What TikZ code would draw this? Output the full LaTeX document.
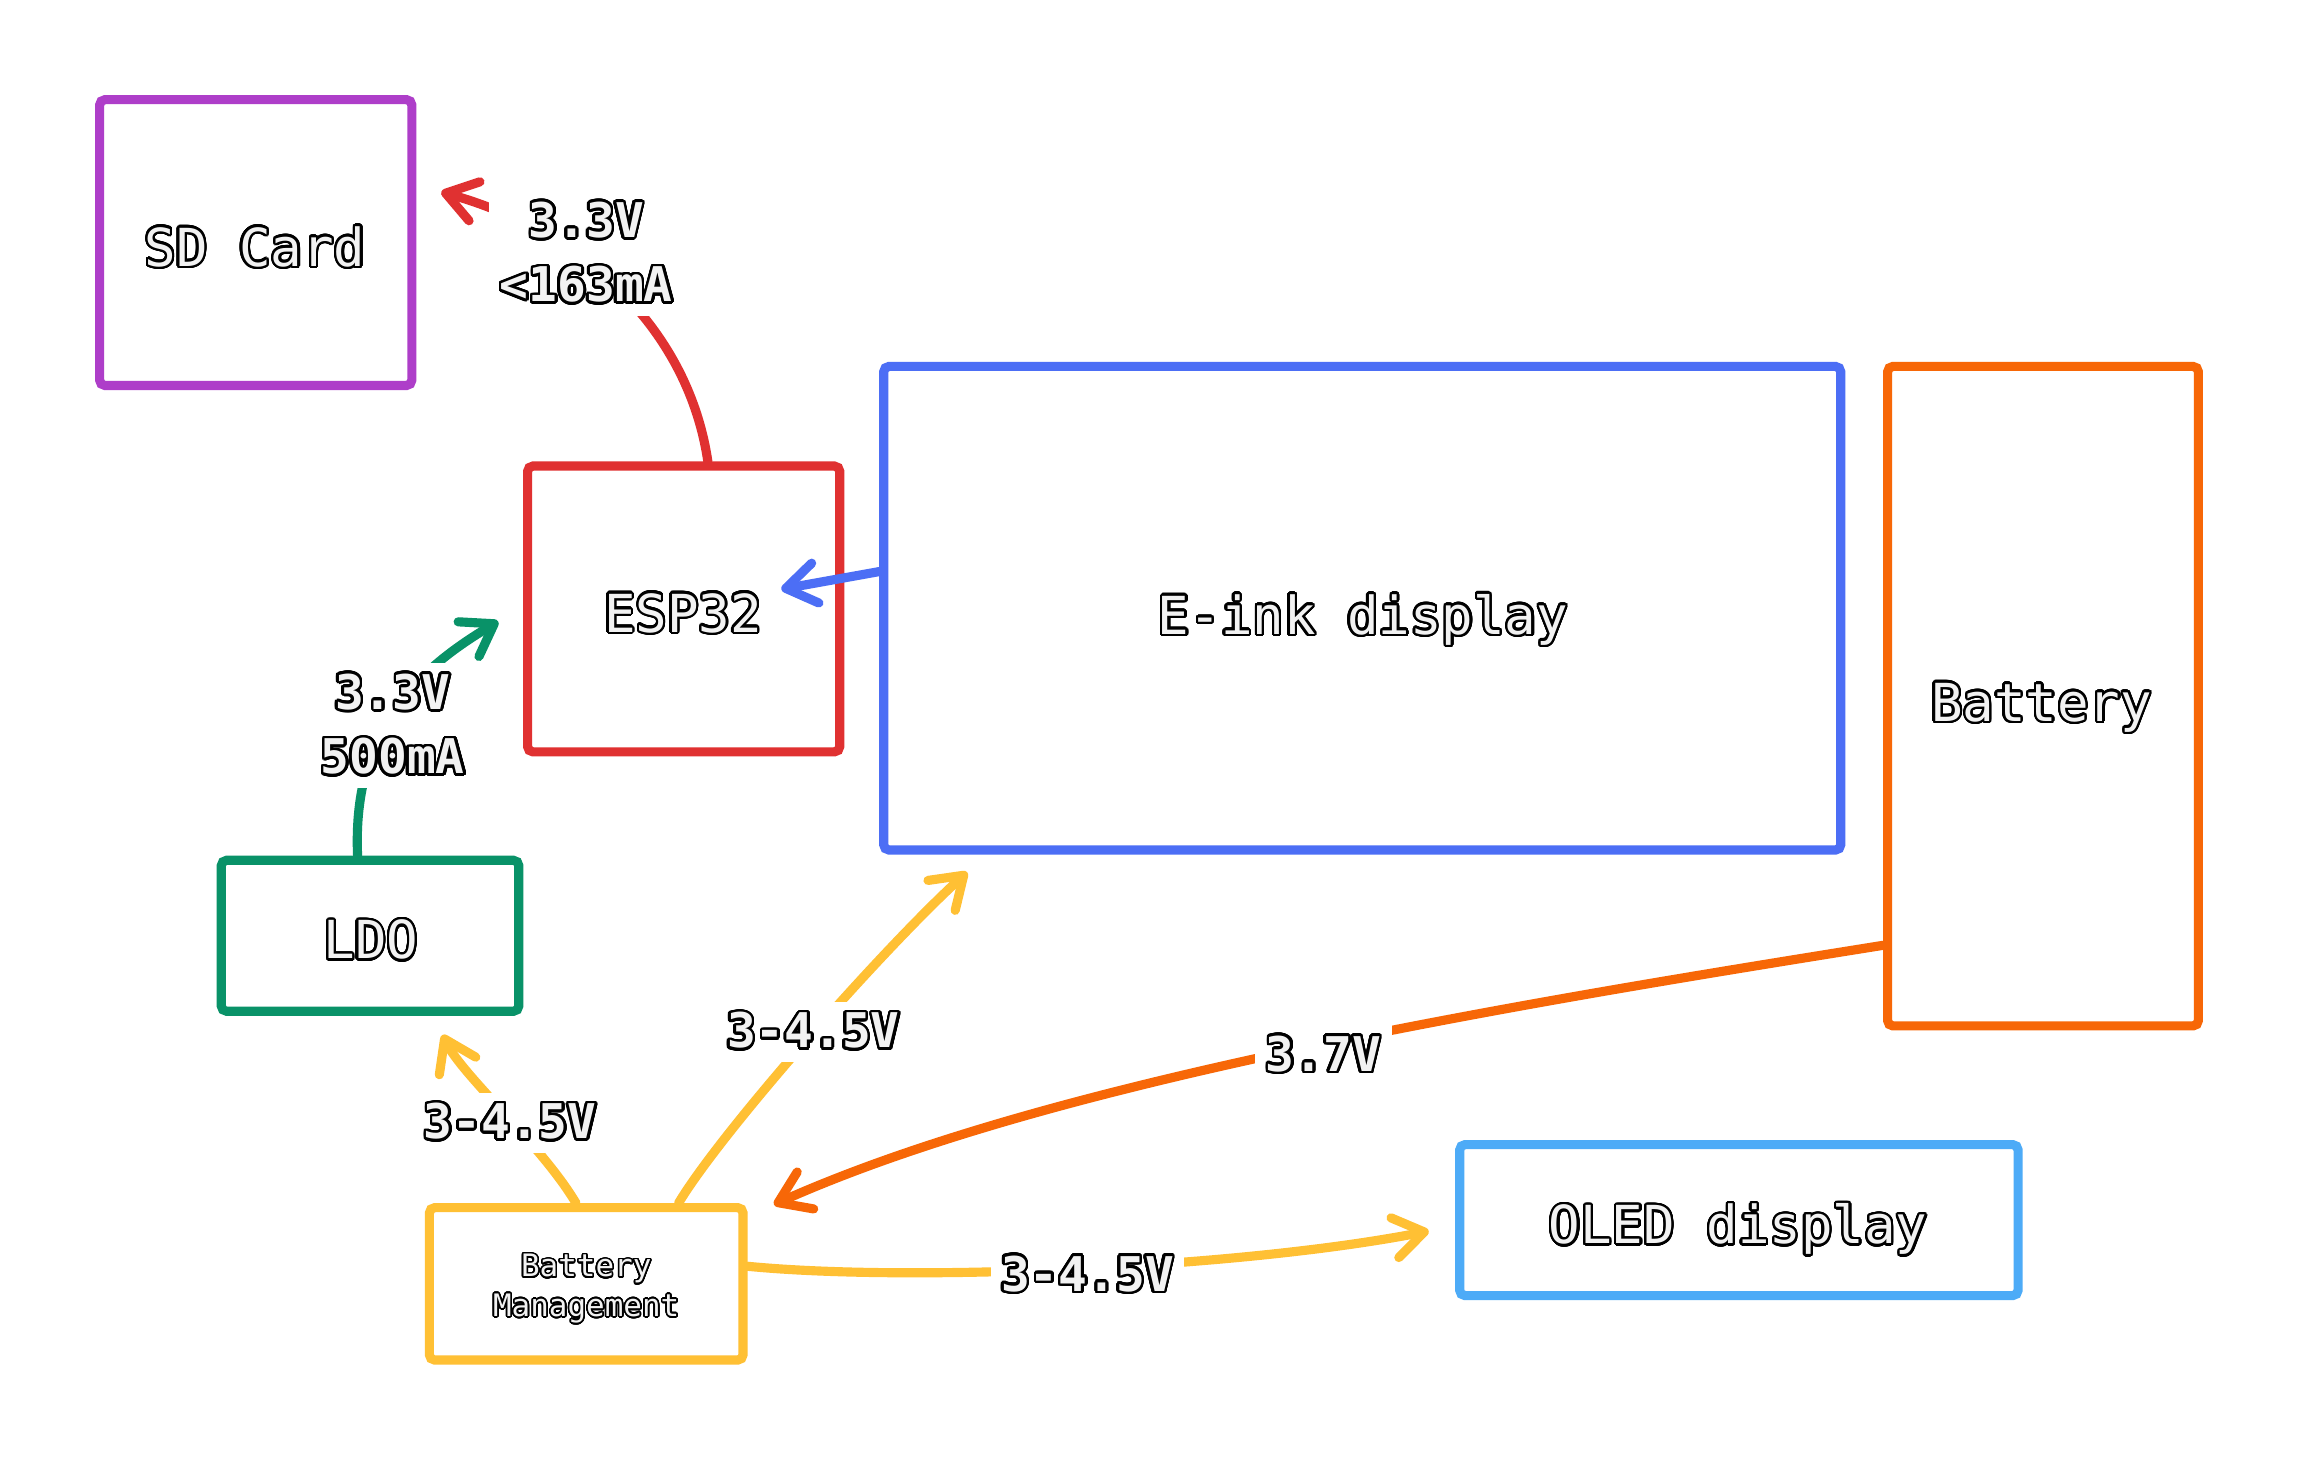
\documentclass[tikz,border=0pt]{standalone}
\usepackage{fontspec}
\setmonofont{DejaVu Sans Mono}
\usepackage{contour}
\contournumber{32}
\usetikzlibrary{arrows.meta,calc}
\definecolor{cViolet}{HTML}{AE3EC9}
\definecolor{cRed}{HTML}{E03131}
\definecolor{cBlue}{HTML}{4C6EF5}
\definecolor{cOrange}{HTML}{F76707}
\definecolor{cGreen}{HTML}{099268}
\definecolor{cYellow}{HTML}{FFC034}
\definecolor{cSky}{HTML}{4DABF7}
\definecolor{txtfill}{HTML}{F2F2F2}
\def\ux{0.014656cm}
\newcommand{\boxtxt}[1]{\contourlength{0.65pt}\contour{black}{#1}}
\newcommand{\lbltxt}[1]{\contourlength{0.75pt}\contour{black}{#1}}
\tikzset{
  box/.style={draw=#1, line width=2.6pt, rounded corners=1.5pt, fill=white, inner sep=0pt,
    text=txtfill, text depth=0pt, font=\ttfamily\fontsize{14.9}{18}\selectfont},
  boxtext/.style={inner sep=0pt, text=txtfill, text depth=0pt,
    font=\ttfamily\fontsize{14.9}{18}\selectfont},
  conn/.style={draw=#1, line width=2.6pt, line cap=round,
    -{Straight Barb[length=8.5pt,width=11.5pt,round]}},
  lbl/.style={fill=white, inner sep=3pt, align=center, text=txtfill,
    font=\ttfamily\bfseries\fontsize{13.6}{18.3}\selectfont},
}
\begin{document}
\begin{tikzpicture}[x=0.014656cm, y=-0.014656cm]
\useasboundingbox[fill=white] (0,0) rectangle (1568,995);
% boxes
\node[box=cViolet, minimum width=213*\ux, minimum height=195*\ux] (sd) at (174.5,165.5) {};
\node[box=cRed, minimum width=213*\ux, minimum height=195*\ux] (esp) at (466.5,415.5) {};
\node[box=cBlue, minimum width=653*\ux, minimum height=330*\ux] (eink) at (929.5,415) {};
\node[box=cOrange, minimum width=212*\ux, minimum height=450*\ux] (batt) at (1394,475) {};
\node[box=cGreen, minimum width=203*\ux, minimum height=103*\ux] (ldo) at (252.5,638.5) {};
\node[box=cYellow, minimum width=214*\ux, minimum height=104*\ux] (bms) at (400,876) {};
\node[box=cSky, minimum width=381*\ux, minimum height=103*\ux] (oled) at (1186.5,832.5) {};
% box texts
\node[boxtext] (sdT) at (174,168) {\boxtxt{SD Card}};
\node[boxtext] (espT) at (466,418) {\boxtxt{ESP32}};
\node[boxtext] (einkT) at (930,419) {\boxtxt{E-ink display}};
\node[boxtext] (battT) at (1393,479) {\boxtxt{Battery}};
\node[boxtext] (ldoT) at (253,641) {\boxtxt{LDO}};
\node[boxtext] (oledT) at (1186,835) {\boxtxt{OLED display}};
\node[boxtext, align=center, font=\ttfamily\fontsize{8.8}{11.3}\selectfont] (bmsT) at (400,877)
  {\contourlength{0.45pt}\contour{black}{Battery}\\\contourlength{0.45pt}\contour{black}{Management}};
% connector end points
\coordinate (sdIn) at ($(sd.east)+(17,-34.5)$);
\coordinate (espTop) at ($(esp.north)+(16.5,0)$);
\coordinate (ldoTop) at ($(ldo.north)+(-8.5,0)$);
\coordinate (espIn) at ($(esp.west)+(-17,8.5)$);
\coordinate (einkOut) at ($(eink.west)+(0,-25)$);
\coordinate (espIn2) at ($(esp.east)+(-43,-13.5)$);
\coordinate (battOut) at ($(batt.west)+(0,170)$);
\coordinate (bmsIn) at ($(bms.north east)+(18,1)$);
\coordinate (bmsTopA) at ($(bms.north)+(-7,0)$);
\coordinate (ldoIn) at ($(ldo.south)+(49.5,13)$);
\coordinate (bmsTopB) at ($(bms.north)+(63,0)$);
\coordinate (einkIn) at ($(eink.south west)+(60,12)$);
\coordinate (bmsRight) at ($(bms.east)+(0,-12)$);
\coordinate (oledIn) at ($(oled.west)+(-18,7.5)$);
% connectors
\draw[conn=cRed] (espTop) .. controls +(-13,-88) and +(100,28) .. (sdIn);
\draw[conn=cGreen] (ldoTop) .. controls +(-4,-90) and +(-50,30) .. (espIn);
\draw[conn=cBlue] (einkOut) -- (espIn2);
\draw[conn=cOrange] (battOut) .. controls +(-250,40) and +(190,-85) .. (bmsIn);
\draw[conn=cYellow] (bmsTopA) .. controls +(-23,-39) and +(13,27) .. (ldoIn);
\draw[conn=cYellow] (bmsTopB) .. controls +(30,-50) and +(-55,50) .. (einkIn);
\draw[conn=cYellow] (bmsRight) .. controls +(113,11) and +(-128,25) .. (oledIn);
% labels
\node[lbl] (l1) at (400,173) {\lbltxt{3.3V}\\\lbltxt{<163mA}};
\node[lbl] (l2) at (268,495) {\lbltxt{3.3V}\\\lbltxt{500mA}};
\node[lbl] (l3) at (348,766) {\lbltxt{3-4.5V}};
\node[lbl] (l4) at (555,704) {\lbltxt{3-4.5V}};
\node[lbl] (l5) at (903,720) {\lbltxt{3.7V}};
\node[lbl] (l6) at (742,870) {\lbltxt{3-4.5V}};
\end{tikzpicture}
\end{document}
